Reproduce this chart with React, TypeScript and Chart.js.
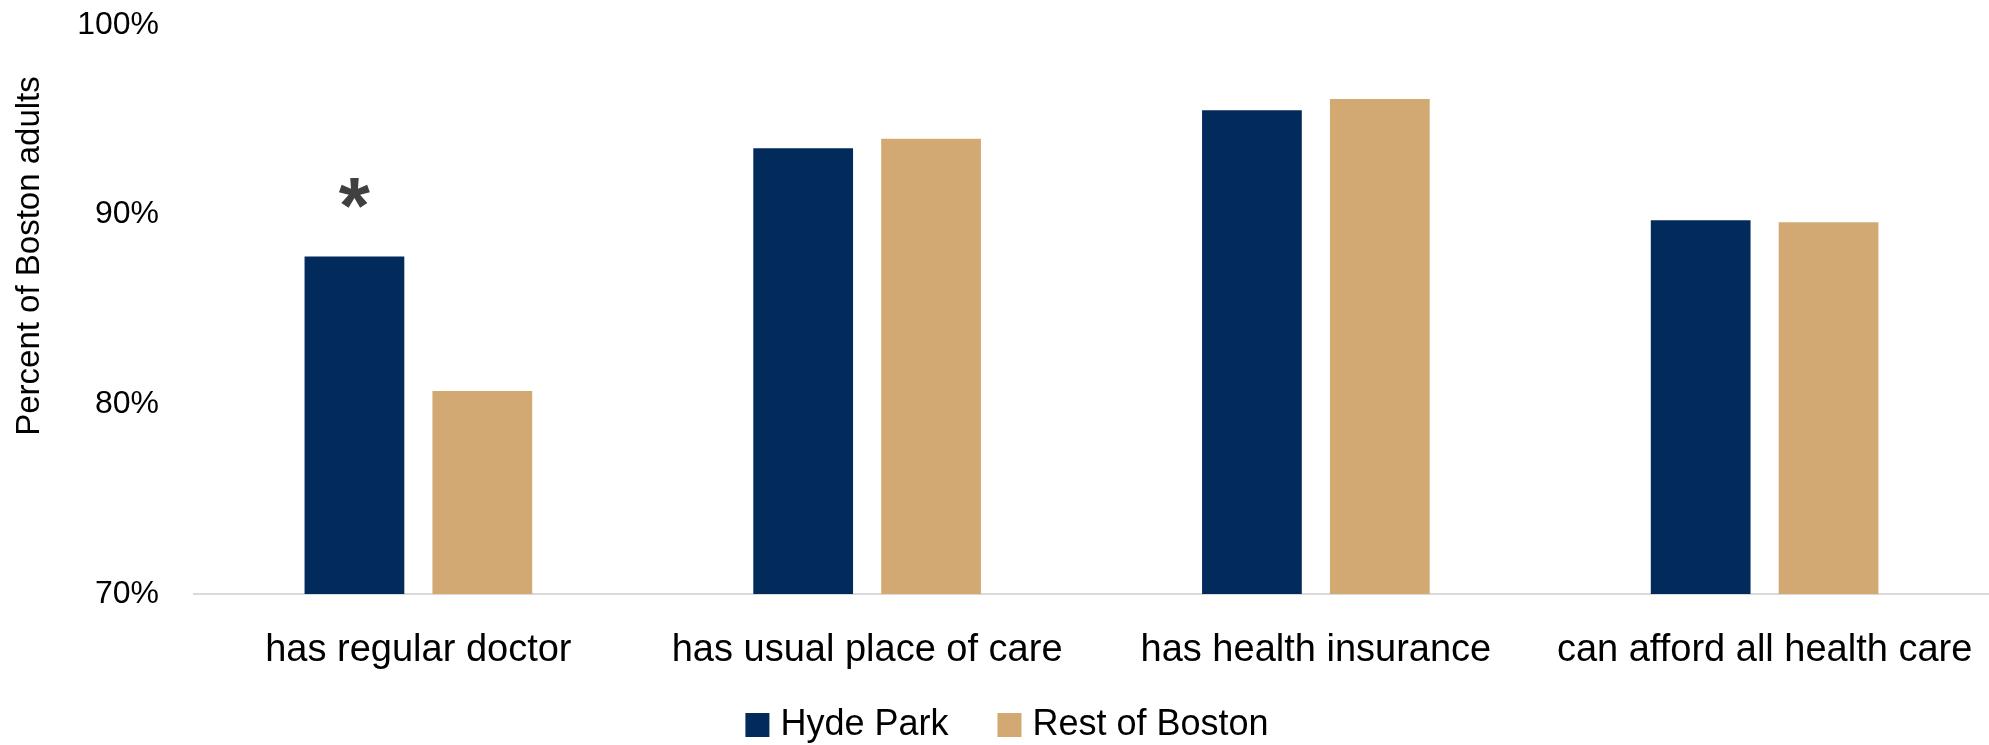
import React, { useEffect, useRef } from "react";
import { Chart, registerables } from "chart.js";

Chart.register(...registerables);

const categories = [
  "has regular doctor",
  "has usual place of care",
  "has health insurance",
  "can afford all health care",
];
const hydePark = [87.8, 93.5, 95.5, 89.7];
const restOfBoston = [80.7, 94.0, 96.1, 89.6];
const significance = ["*", "", "", ""];
const seriesNames = ["Hyde Park", "Rest of Boston"];
const yTicks = [70, 80, 90, 100];
const yTitle = "Percent of Boston adults";

const NAVY = "#022B5C";
const TAN = "#D3A973";
const FONT = "'Liberation Sans', Arial, sans-serif";

const markerPlugin = {
  id: "markers",
  afterDatasetsDraw(chart: any) {
    const meta = chart.getDatasetMeta(0);
    const ctx = chart.ctx;
    ctx.save();
    ctx.fillStyle = "#404040";
    ctx.font = `bold 80px ${FONT}`;
    ctx.textAlign = "center";
    ctx.textBaseline = "alphabetic";
    significance.forEach((m, i) => {
      if (!m) return;
      const el = meta.data[i];
      ctx.fillText(m, el.x, el.y - 23);
    });
    ctx.restore();
  },
};

const yTitlePlugin = {
  id: "ytitle",
  afterDraw(chart: any) {
    const ctx = chart.ctx;
    ctx.save();
    ctx.translate(30, 256);
    ctx.rotate(-Math.PI / 2);
    ctx.fillStyle = "#000";
    ctx.font = `33px ${FONT}`;
    ctx.textAlign = "center";
    ctx.textBaseline = "middle";
    ctx.fillText(yTitle, 0, 0);
    ctx.restore();
  },
};

const legendPlugin = {
  id: "customLegend",
  afterDraw(chart: any) {
    const ctx = chart.ctx;
    const ds = chart.data.datasets;
    const box = 24;
    const textGap = 11;
    const itemGap = 49;
    const cy = 725;
    const centerX = 1007;
    ctx.save();
    ctx.font = `36px ${FONT}`;
    const widths = ds.map((d: any) => ctx.measureText(d.label).width);
    const total =
      widths.reduce((a: number, w: number) => a + box + textGap + w, 0) +
      itemGap * (ds.length - 1);
    let x = centerX - total / 2;
    ds.forEach((d: any, i: number) => {
      ctx.fillStyle = d.backgroundColor;
      ctx.fillRect(x, cy - box / 2, box, box);
      ctx.fillStyle = "#000";
      ctx.textAlign = "left";
      ctx.textBaseline = "middle";
      ctx.fillText(d.label, x + box + textGap, cy);
      x += box + textGap + widths[i] + itemGap;
    });
    ctx.restore();
  },
};

export default function App() {
  const ref = useRef<HTMLCanvasElement | null>(null);
  useEffect(() => {
    if (!ref.current) return;
    const chart = new Chart(ref.current, {
      type: "bar",
      data: {
        labels: categories,
        datasets: [
          {
            label: seriesNames[0],
            data: hydePark,
            backgroundColor: NAVY,
            categoryPercentage: 0.57,
            barPercentage: 0.78,
          },
          {
            label: seriesNames[1],
            data: restOfBoston,
            backgroundColor: TAN,
            categoryPercentage: 0.57,
            barPercentage: 0.78,
          },
        ],
      },
      options: {
        responsive: false,
        animation: false,
        devicePixelRatio: 1,
        layout: { padding: { top: 25, left: 0, right: 0, bottom: 0 } },
        plugins: {
          legend: { display: false },
          tooltip: { enabled: false },
          title: { display: false },
        },
        scales: {
          x: {
            grid: { display: false, drawTicks: false },
            border: { display: true, color: "#D9D9D9", width: 2 },
            ticks: {
              color: "#000",
              font: { family: FONT, size: 38 },
              padding: 34,
              maxRotation: 0,
              autoSkip: false,
            },
            afterFit(scale: any) {
              scale.height = 151;
              scale.paddingLeft = 0;
              scale.paddingRight = 0;
            },
          },
          y: {
            min: 70,
            max: 100,
            grid: { display: false, drawTicks: false },
            border: { display: false },
            afterBuildTicks(scale: any) {
              scale.ticks = yTicks.map((v) => ({ value: v }));
            },
            ticks: {
              color: "#000",
              font: { family: FONT, size: 32 },
              padding: 35,
              callback: (v: any) => `${v}%`,
            },
            afterFit(scale: any) {
              scale.width = 194;
              scale.paddingTop = 0;
              scale.paddingBottom = 0;
            },
          },
        },
      },
      plugins: [markerPlugin, yTitlePlugin, legendPlugin],
    });
    return () => chart.destroy();
  }, []);
  return (
    <div style={{ position: "fixed", left: 0, top: 0, width: 1989, height: 745, background: "#fff" }}>
      <canvas ref={ref} width={1989} height={745} style={{ width: 1989, height: 745, display: "block" }} />
    </div>
  );
}
